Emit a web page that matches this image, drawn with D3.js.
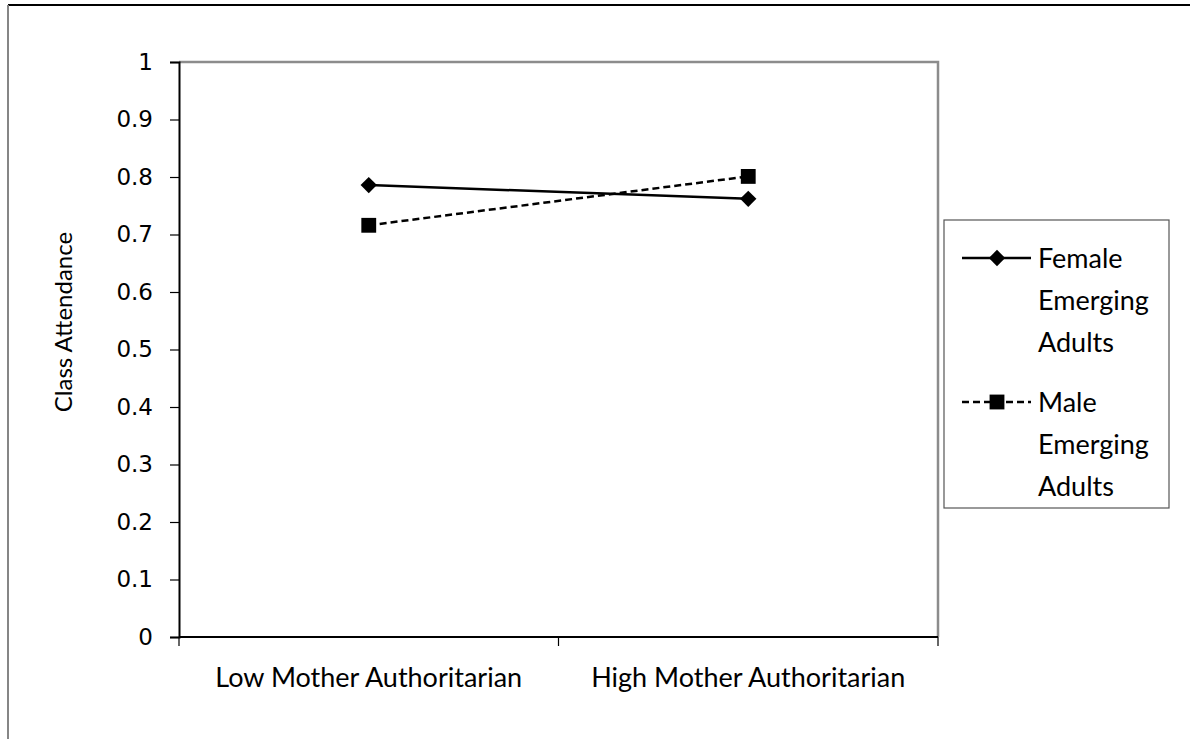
<!DOCTYPE html>
<html>
<head>
<meta charset="utf-8">
<script src="https://cdn.jsdelivr.net/npm/d3@7"></script>
<style>
html,body{margin:0;padding:0;background:#fff;}
svg{display:block;}
</style>
</head>
<body>
<svg id="chart" width="1190" height="739"></svg>
<script>
const categories = ["Low Mother Authoritarian", "High Mother Authoritarian"];
const seriesNames = ["Female Emerging Adults", "Male Emerging Adults"];
const femaleValues = [0.786, 0.762];
const maleValues = [0.716, 0.801];
const yTicks = [0, 0.1, 0.2, 0.3, 0.4, 0.5, 0.6, 0.7, 0.8, 0.9, 1];
const yTitle = "Class Attendance";
const legendLines = [["Female", "Emerging", "Adults"], ["Male", "Emerging", "Adults"]];

const svg = d3.select("#chart");
const W = 1190, H = 739;
const plot = {left: 179, right: 938, top: 62, bottom: 637};
const labelFont = "Lato, 'Open Sans', sans-serif";

// outer frame
svg.append("line").attr("x1", 8).attr("x2", W).attr("y1", 5).attr("y2", 5)
  .attr("stroke", "#000").attr("stroke-width", 2);
svg.append("line").attr("x1", 8).attr("x2", 8).attr("y1", 5).attr("y2", H)
  .attr("stroke", "#868686").attr("stroke-width", 2);

const x = d3.scaleBand().domain(categories).range([plot.left, plot.right]);
const y = d3.scaleLinear().domain([0, 1]).range([plot.bottom, plot.top]);

// plot area border (top/right grey)
svg.append("path")
  .attr("d", `M${plot.left},${plot.top}H${plot.right}V${plot.bottom}`)
  .attr("fill", "none").attr("stroke", "#8c8c8c").attr("stroke-width", 2.5);

// y axis
const yAxis = d3.axisLeft(y).tickValues(yTicks).tickSize(9).tickPadding(17)
  .tickFormat(d => d3.format("")(+d.toFixed(1)));
const gy = svg.append("g").attr("transform", `translate(${plot.left},0)`).call(yAxis);
gy.select(".domain").attr("stroke", "#000").attr("stroke-width", 2);
gy.selectAll(".tick line").attr("stroke", "#000").attr("stroke-width", 1.2);
gy.selectAll(".tick text").attr("font-family", "'DejaVu Sans', Verdana, sans-serif")
  .attr("font-size", 23).attr("fill", "#000");

// x axis with boundary ticks
const gx = svg.append("g").attr("transform", `translate(0,${plot.bottom})`);
gx.append("line").attr("x1", plot.left).attr("x2", plot.right)
  .attr("stroke", "#000").attr("stroke-width", 2);
const bounds = [plot.left].concat(categories.map(c => x(c) + x.bandwidth()));
gx.selectAll("line.tk").data(bounds).join("line").attr("class", "tk")
  .attr("x1", d => d).attr("x2", d => d).attr("y1", 0).attr("y2", 9)
  .attr("stroke", "#000").attr("stroke-width", 1.2);
gx.selectAll("text").data(categories).join("text")
  .attr("x", d => x(d) + x.bandwidth() / 2).attr("y", 50)
  .attr("text-anchor", "middle").attr("font-family", labelFont)
  .attr("font-size", 27).attr("fill", "#000").text(d => d);

// y title
svg.append("text").attr("transform", "translate(72,322) rotate(-90)")
  .attr("text-anchor", "middle").attr("font-family", labelFont)
  .attr("font-size", 24).attr("fill", "#000").text(yTitle);

const cx = d => x(d) + x.bandwidth() / 2;
const line = d3.line().x(d => cx(d.c)).y(d => y(d.v));
const femaleData = categories.map((c, i) => ({c, v: femaleValues[i]}));
const maleData = categories.map((c, i) => ({c, v: maleValues[i]}));

svg.append("path").datum(femaleData).attr("d", line).attr("fill", "none")
  .attr("stroke", "#000").attr("stroke-width", 2.5);
svg.append("path").datum(maleData).attr("d", line).attr("fill", "none")
  .attr("stroke", "#000").attr("stroke-width", 2.5).attr("stroke-dasharray", "7,4");

const diamond = d3.symbol().type(d3.symbolDiamond2).size(170);
const square = d3.symbol().type(d3.symbolSquare).size(220);
svg.selectAll("path.fm").data(femaleData).join("path").attr("class", "fm")
  .attr("d", diamond).attr("transform", d => `translate(${cx(d.c)},${y(d.v)})`).attr("fill", "#000");
svg.selectAll("path.mm").data(maleData).join("path").attr("class", "mm")
  .attr("d", square).attr("transform", d => `translate(${cx(d.c)},${y(d.v)})`).attr("fill", "#000");

// legend
const lg = svg.append("g");
lg.append("rect").attr("x", 944).attr("y", 220).attr("width", 225).attr("height", 288)
  .attr("fill", "#fff").attr("stroke", "#555").attr("stroke-width", 1.2);
const items = [{y: 258, dash: null, sym: diamond}, {y: 402, dash: "7,4", sym: square}];
items.forEach((it, i) => {
  lg.append("line").attr("x1", 962).attr("x2", 1031).attr("y1", it.y).attr("y2", it.y)
    .attr("stroke", "#000").attr("stroke-width", 2.5).attr("stroke-dasharray", it.dash);
  lg.append("path").attr("d", it.sym).attr("transform", `translate(997,${it.y})`).attr("fill", "#000");
  legendLines[i].forEach((t, j) => {
    lg.append("text").attr("x", 1038).attr("y", it.y + 10 + j * 42)
      .attr("font-family", labelFont).attr("font-size", 27).attr("fill", "#000").text(t);
  });
});
</script>
</body>
</html>
